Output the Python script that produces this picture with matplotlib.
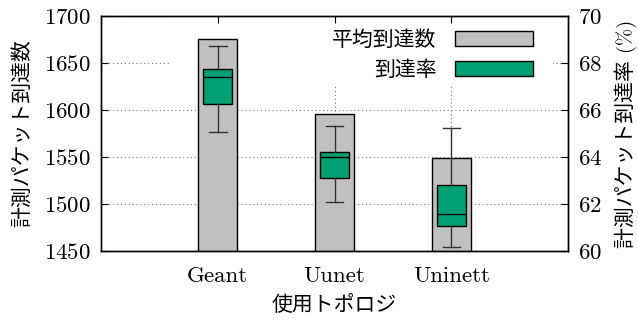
import matplotlib
matplotlib.use('Agg')
import matplotlib.pyplot as plt
from matplotlib.patches import Patch, Rectangle

plt.rcParams['font.family'] = ['cmr10', 'Noto Sans CJK JP']
plt.rcParams['axes.formatter.use_mathtext'] = True
plt.rcParams['font.size'] = 15

# data
topologies = ['Geant', 'Uunet', 'Uninett']
mean_counts = [1675.5, 1596, 1548.6]
# arrival rate (%): lower whisker, q1, median, q3, upper whisker
rate_whislo = [65.06, 62.07, 60.18]
rate_q1 = [66.27, 63.12, 61.08]
rate_med = [67.39, 64.01, 61.56]
rate_q3 = [67.73, 64.23, 62.80]
rate_whishi = [68.71, 65.31, 65.25]

gray = '#c0c0c0'
green = '#009e73'
tick_fs = 16.5

fig, ax = plt.subplots(figsize=(6.38, 3.2), dpi=100)
fig.subplots_adjust(left=0.1583, right=0.8903, top=0.95, bottom=0.2156)

pos = list(range(1, len(topologies) + 1))

ax.set_axisbelow(True)
ax.grid(True, linestyle=(0, (1, 2.5)), color='#777777', linewidth=0.8)
ax.bar(pos, mean_counts, width=0.33, color=gray, edgecolor='black', linewidth=1, zorder=2)
ax.set_ylim(1450, 1700)
ax.set_yticks(range(1450, 1701, 50))
ax.set_xlim(0, 4)
ax.set_xticks(pos)
ax.set_xticklabels(topologies)
ax.tick_params(axis='both', direction='in', length=5, top=False, right=False,
               labelsize=tick_fs)
ax.tick_params(axis='y', pad=7)
ax.tick_params(axis='x', pad=11)
ax.set_ylabel('計測パケット到達数', labelpad=9)
ax.set_xlabel('使用トポロジ', labelpad=7)

# opaque key background (covers grid, not the bars)
ax.add_patch(Rectangle((0.148, 0.706), 0.82, 0.294, transform=ax.transAxes,
                       facecolor='white', edgecolor='none', zorder=1))

ax2 = ax.twinx()
stats = []
for i, name in enumerate(topologies):
    stats.append(dict(label=name, whislo=rate_whislo[i], q1=rate_q1[i], med=rate_med[i],
                      q3=rate_q3[i], whishi=rate_whishi[i], fliers=[]))
ax2.bxp(stats, positions=pos, widths=0.25, capwidths=0.15, patch_artist=True,
        showfliers=False, manage_ticks=False,
        boxprops=dict(facecolor=green, edgecolor='black', linewidth=1),
        medianprops=dict(color='black', linewidth=1),
        whiskerprops=dict(color='#333333', linewidth=1),
        capprops=dict(color='#333333', linewidth=1))
ax2.set_ylim(60, 70)
ax2.set_yticks(range(60, 71, 2))
ax2.set_xlim(0, 4)
ax2.xaxis.set_visible(True)
ax2.tick_params(axis='x', bottom=False, labelbottom=False, top=True, labeltop=False,
                direction='in', length=5)
ax2.tick_params(axis='y', direction='in', length=5, pad=7, labelsize=tick_fs)
ax2.set_ylabel('計測パケット到達率 (%)', labelpad=9)

for a in (ax, ax2):
    for s in a.spines.values():
        s.set_linewidth(1)

handles = [Patch(facecolor=gray, edgecolor='black', linewidth=1),
           Patch(facecolor=green, edgecolor='black', linewidth=1)]
ax2.legend(handles, ['平均到達数', '到達率'], loc='upper right',
           bbox_to_anchor=(0.925, 0.94), frameon=False, markerfirst=False,
           handlelength=3.75, handleheight=0.72, handletextpad=0.87,
           labelspacing=0.5, borderpad=0, borderaxespad=0)

fig.savefig('out.png', dpi=100)
